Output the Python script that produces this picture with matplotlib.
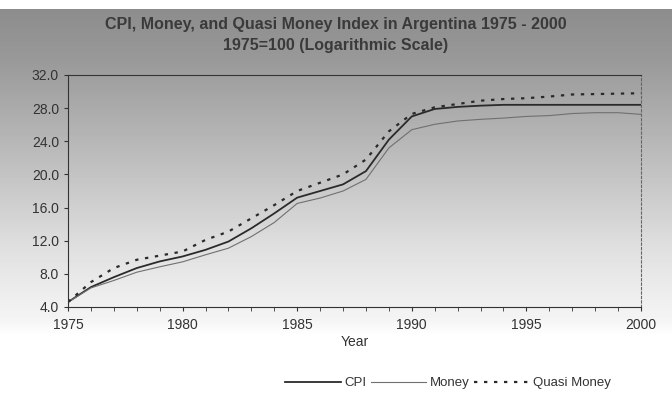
import numpy as np
import matplotlib
matplotlib.use("Agg")
import matplotlib.pyplot as plt

plt.rcParams['font.family'] = ['Liberation Sans', 'DejaVu Sans']

# Данные: логарифм индексов (1975=100)
years = list(range(1975, 2001))
cpi = [4.6, 6.4, 7.6, 8.7, 9.5, 10.1, 10.9, 11.9, 13.5, 15.3, 17.2, 18.0, 18.8, 20.4,
       24.2, 27.0, 27.9, 28.15, 28.3, 28.4, 28.4, 28.4, 28.4, 28.4, 28.4, 28.4]
money = [4.6, 6.3, 7.2, 8.2, 8.85, 9.45, 10.3, 11.1, 12.5, 14.2, 16.5, 17.15, 18.0, 19.4,
         23.2, 25.4, 26.05, 26.45, 26.65, 26.8, 27.0, 27.1, 27.35, 27.45, 27.45, 27.25]
quasi = [4.6, 7.0, 8.7, 9.7, 10.2, 10.7, 12.1, 13.1, 14.7, 16.3, 18.0, 19.0, 20.0, 21.8,
         25.2, 27.3, 28.1, 28.5, 28.9, 29.1, 29.2, 29.4, 29.65, 29.7, 29.75, 29.8]

yticks = [4, 8, 12, 16, 20, 24, 28, 32]
xticks = [1975, 1980, 1985, 1990, 1995, 2000]

fig = plt.figure(figsize=(6.72, 4.07), dpi=100)

# серый фон скана (градиент сверху вниз)
bg = fig.add_axes([0, 0, 1, 1], zorder=-1)
rows = np.arange(407)
shade = np.interp(rows, [0, 8, 9, 60, 150, 250, 320, 335, 407],
                  [1.0, 1.0, 0.55, 0.6, 0.73, 0.88, 0.96, 1.0, 1.0])
bg.imshow(np.tile(shade[:, None], (1, 10)), cmap='gray', vmin=0, vmax=1,
          aspect='auto', extent=[0, 1, 0, 1])
bg.axis('off')

ax = fig.add_axes([68 / 672, 1 - 307 / 407, (641 - 68) / 672, (307 - 75) / 407])
ax.patch.set_alpha(0)

ax.plot(years, cpi, '-', color='#2a2a2a', linewidth=1.3, label='CPI')
ax.plot(years, money, '-', color='#707070', linewidth=0.8, label='Money')
ax.plot(years, quasi, color='#2a2a2a', linewidth=1.6, linestyle=(0, (1.5, 3)),
        label='Quasi Money')

ax.set_xlim(1975, 2000)
ax.set_ylim(4, 32)
ax.set_yticks(yticks)
ax.set_yticklabels([f'{v:.1f}' for v in yticks])
ax.set_xticks(xticks)
ax.set_xticks(years, minor=True)
ax.tick_params(axis='both', labelsize=10, colors='#333333', length=3)
ax.tick_params(axis='x', which='minor', length=3, color='#333333')
ax.tick_params(axis='x', pad=5)
for s in ax.spines.values():
    s.set_color('#333333')
ax.spines['right'].set_linestyle((0, (2, 2)))
ax.spines['right'].set_color('#666666')

ax.set_xlabel('Year', fontsize=10, color='#333333', labelpad=2)
fig.text(0.5, 1 - 35 / 407, 'CPI, Money, and Quasi Money Index in Argentina 1975 - 2000\n'
         '1975=100 (Logarithmic Scale)', ha='center', va='center',
         fontsize=11.5, fontweight='bold', color='#3a3a3a', linespacing=1.5)

fig.legend(loc='center', bbox_to_anchor=(448 / 672, 1 - 383 / 407), ncol=3,
           frameon=False, fontsize=9.5, handlelength=4.2, handletextpad=0.3,
           columnspacing=0.3, labelcolor='#333333')

fig.savefig('out.png', dpi=100)
